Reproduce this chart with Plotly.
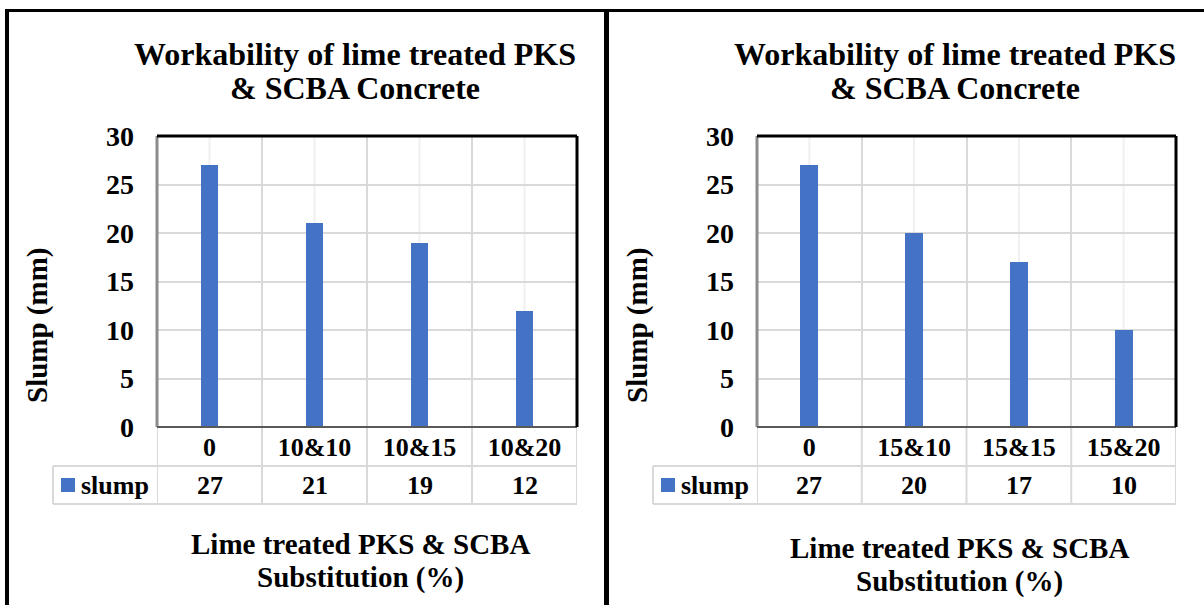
import plotly.graph_objects as go

# ---------------- data ----------------
categories_left = ["0", "10&10", "10&15", "10&20"]
slump_left = [27, 21, 19, 12]
categories_right = ["0", "15&10", "15&15", "15&20"]
slump_right = [27, 20, 17, 10]
series_name = "slump"
y_ticks = [0, 5, 10, 15, 20, 25, 30]
chart_title = ["Workability of lime treated PKS", "& SCBA Concrete"]
x_title = ["Lime treated PKS & SCBA", "Substitution (%)"]
y_title = "Slump (mm)"

W, H = 1204, 605
FONT = "Liberation Serif, Times New Roman, serif"
BAR = "#4472C4"
GRID = "#d9d9d9"


def px(x):
    return x / W


def py(y):
    return 1 - y / H


PLOT_TOP, PLOT_BOT = 136, 427
ROW_MID, TABLE_BOT = 466, 504
panels = [
    dict(cats=categories_left, vals=slump_left, x0=157, x1=577, leg=53,
         xa="x", ya="y", title_x=355, xt_x=360, xt_y=(544, 577), yt_x=37),
    dict(cats=categories_right, vals=slump_right, x0=757, x1=1176, leg=653,
         xa="x2", ya="y2", title_x=955, xt_x=959, xt_y=(548, 581), yt_x=637),
]

fig = go.Figure()
shapes = []
annotations = []

for i, p in enumerate(panels):
    fig.add_trace(go.Bar(
        x=p["cats"], y=p["vals"], name=series_name, width=0.17,
        marker=dict(color=BAR, line=dict(width=0)),
        xaxis=p["xa"], yaxis=p["ya"], showlegend=False,
    ))
    sfx = "" if i == 0 else "2"
    axis_x = dict(
        domain=[px(p["x0"]), px(p["x1"])], anchor=p["ya"], automargin=False,
        type="category", range=[-0.5, 3.5], tickson="boundaries",
        showgrid=True, gridcolor=GRID, gridwidth=2, showline=False, zeroline=False,
        ticks="", tickfont=dict(family=FONT, size=26, color="black", weight="bold"),
        ticklabelstandoff=2, fixedrange=True,
    )
    axis_y = dict(
        domain=[py(PLOT_BOT), py(PLOT_TOP)], anchor=p["xa"], automargin=False,
        range=[0, 30], tickvals=y_ticks, showgrid=True, gridcolor=GRID, gridwidth=2,
        showline=False, zeroline=False, ticks="",
        tickfont=dict(family=FONT, size=28, color="black", weight="bold"),
        ticklabelstandoff=22, fixedrange=True,
    )
    fig.layout["xaxis" + sfx] = axis_x
    fig.layout["yaxis" + sfx] = axis_y

    xd = p["xa"] + " domain"
    yd = p["ya"] + " domain"
    # faint centre lines
    for k in range(len(p["cats"])):
        shapes.append(dict(type="line", xref=p["xa"], yref=yd, x0=k, x1=k, y0=0, y1=1,
                           line=dict(color="#f0f0f0", width=2), layer="below"))
    # table vertical lines (category boundaries)
    for k in range(len(p["cats"]) + 1):
        shapes.append(dict(type="line", xref=p["xa"], yref="paper", x0=k - 0.5, x1=k - 0.5,
                           y0=py(PLOT_BOT), y1=py(TABLE_BOT), line=dict(color=GRID, width=2)))
    legx = (p["leg"] - p["x0"]) / (p["x1"] - p["x0"])
    # table horizontal lines
    for yy in (ROW_MID, TABLE_BOT):
        shapes.append(dict(type="line", xref=xd, yref="paper", x0=legx, x1=1,
                           y0=py(yy), y1=py(yy), line=dict(color=GRID, width=2)))
    shapes.append(dict(type="line", xref=xd, yref="paper", x0=legx, x1=legx,
                       y0=py(ROW_MID), y1=py(TABLE_BOT), line=dict(color=GRID, width=2)))
    # plot frame
    shapes.append(dict(type="line", xref=xd, yref=yd, x0=0, x1=0, y0=0, y1=1,
                       line=dict(color="#8c8c8c", width=3)))
    shapes.append(dict(type="line", xref=xd, yref=yd, x0=0, x1=1, y0=0, y1=0,
                       line=dict(color="#595959", width=2)))
    shapes.append(dict(type="line", xref=xd, yref=yd, x0=0, x1=1, y0=1, y1=1,
                       line=dict(color="black", width=3)))
    shapes.append(dict(type="line", xref=xd, yref=yd, x0=1, x1=1, y0=0, y1=1,
                       line=dict(color="black", width=3)))
    # legend swatch
    shapes.append(dict(type="rect", xref="paper", yref="paper",
                       x0=px(p["leg"] + 8), x1=px(p["leg"] + 22),
                       y0=py(492), y1=py(478), fillcolor=BAR, line=dict(width=0)))
    annotations.append(dict(xref="paper", yref="paper", x=px(p["leg"] + 26), y=py(485),
                            xanchor="left", yanchor="middle", showarrow=False,
                            text="<b>" + series_name + "</b>",
                            font=dict(family=FONT, size=26, color="black")))
    # value row
    for c, v in zip(p["cats"], p["vals"]):
        annotations.append(dict(xref=p["xa"], yref="paper", x=c, y=py(485),
                                xanchor="center", yanchor="middle", showarrow=False,
                                text="<b>%d</b>" % v,
                                font=dict(family=FONT, size=26, color="black")))
    # titles
    for line_txt, yy in zip(chart_title, (54, 88)):
        annotations.append(dict(xref="paper", yref="paper", x=px(p["title_x"]), y=py(yy),
                                xanchor="center", yanchor="middle", showarrow=False,
                                text="<b>" + line_txt + "</b>",
                                font=dict(family=FONT, size=32, color="black")))
    for line_txt, yy in zip(x_title, p["xt_y"]):
        annotations.append(dict(xref="paper", yref="paper", x=px(p["xt_x"]), y=py(yy),
                                xanchor="center", yanchor="middle", showarrow=False,
                                text="<b>" + line_txt + "</b>",
                                font=dict(family=FONT, size=29, color="black")))
    annotations.append(dict(xref="paper", yref="paper", x=px(p["yt_x"]), y=py(326),
                            xanchor="center", yanchor="middle", showarrow=False,
                            textangle=-90, text="<b>" + y_title + "</b>",
                            font=dict(family=FONT, size=29, color="black")))

# outer borders
shapes.append(dict(type="line", xref="paper", yref="paper", x0=px(5), x1=1,
                   y0=py(10.5), y1=py(10.5), line=dict(color="black", width=3)))
shapes.append(dict(type="line", xref="paper", yref="paper", x0=px(7), x1=px(7),
                   y0=py(9), y1=0, line=dict(color="black", width=4)))
shapes.append(dict(type="line", xref="paper", yref="paper", x0=px(606.5), x1=px(606.5),
                   y0=py(9), y1=0, line=dict(color="black", width=5)))

fig.update_layout(
    width=W, height=H, margin=dict(l=0, r=0, t=0, b=0, autoexpand=False),
    paper_bgcolor="white", plot_bgcolor="white",
    shapes=shapes, annotations=annotations, showlegend=False,
    bargap=0, font=dict(family=FONT),
)

fig.write_html("out.html")
